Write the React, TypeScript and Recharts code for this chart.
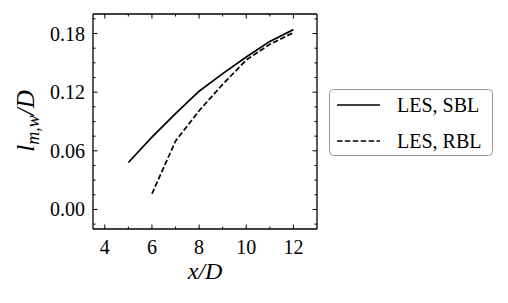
import React from "react";
import { LineChart, Line, XAxis, YAxis, Legend } from "recharts";

const xValues = [5, 6, 7, 8, 9, 10, 11, 12];
const sblValues = [0.048, 0.074, 0.098, 0.121, 0.139, 0.156, 0.172, 0.184];
const rblValues = [null, 0.016, 0.07, 0.101, 0.128, 0.153, 0.169, 0.181];

const xTicks = [4, 5, 6, 7, 8, 9, 10, 11, 12];
const xMajor = [4, 6, 8, 10, 12];
const yTicks = [-0.015, 0, 0.015, 0.03, 0.045, 0.06, 0.075, 0.09, 0.105, 0.12, 0.135, 0.15, 0.165, 0.18, 0.195];
const yMajor = [0, 0.06, 0.12, 0.18];

const seriesNames = ["LES, SBL", "LES, RBL"];

const data = xValues.map((x, i) => ({ x, sbl: sblValues[i], rbl: rblValues[i] }));

const FONT = "'Liberation Serif', 'Times New Roman', serif";
const isMajor = (arr: number[], v: number) => arr.some((m) => Math.abs(m - v) < 1e-9);

const makeTick = (side: "bottom" | "top" | "left" | "right") => (props: any) => {
  const { x, y, payload } = props;
  const v = payload.value;
  const major = side === "bottom" || side === "top" ? isMajor(xMajor, v) : isMajor(yMajor, v);
  const len = major ? 4.5 : 2.5;
  let line;
  if (side === "bottom") line = <line x1={x} x2={x} y1={y} y2={y - len} stroke="#000" strokeWidth={1} />;
  else if (side === "top") line = <line x1={x} x2={x} y1={y} y2={y + len} stroke="#000" strokeWidth={1} />;
  else if (side === "left") line = <line x1={x} x2={x + len} y1={y} y2={y} stroke="#000" strokeWidth={1} />;
  else line = <line x1={x} x2={x - len} y1={y} y2={y} stroke="#000" strokeWidth={1} />;
  let label = null;
  if (major && side === "bottom")
    label = (
      <text x={x} y={y + 25} textAnchor="middle" fontSize={20} fontFamily={FONT} fill="#000">
        {v}
      </text>
    );
  if (major && side === "left")
    label = (
      <text x={x - 8} y={y + 7} textAnchor="end" fontSize={20} fontFamily={FONT} fill="#000">
        {v.toFixed(2)}
      </text>
    );
  return (
    <g>
      {line}
      {label}
    </g>
  );
};

const LegendContent = () => (
  <svg width={164} height={67} style={{ display: "block" }}>
    <rect x={0.5} y={0.5} width={163} height={66} rx={4} ry={4} fill="#fff" stroke="#999" strokeWidth={1} />
    <line x1={8} x2={51} y1={16} y2={16} stroke="#000" strokeWidth={1.7} />
    <text x={68} y={23} fontSize={20} fontFamily={FONT} fill="#000">
      {seriesNames[0]}
    </text>
    <line x1={8} x2={51} y1={52} y2={52} stroke="#000" strokeWidth={1.7} strokeDasharray="5.5 2.4" />
    <text x={68} y={59} fontSize={20} fontFamily={FONT} fill="#000">
      {seriesNames[1]}
    </text>
  </svg>
);

export default function App() {
  return (
    <div style={{ position: "absolute", left: 0, top: 0, width: 508, height: 303, background: "#fff" }}>
      <LineChart
        width={508}
        height={303}
        data={data}
        margin={{ top: 13, left: 92, right: 190, bottom: 73 }}
        style={{ fontFamily: FONT }}
      >
        <XAxis
          dataKey="x"
          type="number"
          domain={[3.5, 13]}
          ticks={xTicks}
          interval={0}
          height={1}
          tickSize={0}
          tickMargin={0}
          tickLine={false}
          axisLine={{ stroke: "#000", strokeWidth: 1.3 }}
          tick={makeTick("bottom")}
          allowDataOverflow
          label={{
            content: () => (
              <text x={205} y={279} textAnchor="middle" fontSize={24} fontFamily={FONT} fontStyle="italic" fill="#000">
                x/D
              </text>
            ),
          }}
        />
        <XAxis
          xAxisId="top"
          orientation="top"
          dataKey="x"
          type="number"
          domain={[3.5, 13]}
          ticks={xTicks}
          interval={0}
          height={1}
          tickSize={0}
          tickMargin={0}
          tickLine={false}
          axisLine={{ stroke: "#000", strokeWidth: 1.3 }}
          tick={makeTick("top")}
          allowDataOverflow
        />
        <YAxis
          type="number"
          domain={[-0.02, 0.2]}
          ticks={yTicks}
          interval={0}
          width={1}
          tickSize={0}
          tickMargin={0}
          tickLine={false}
          axisLine={{ stroke: "#000", strokeWidth: 1.3 }}
          tick={makeTick("left")}
          allowDataOverflow
          label={{
            content: () => (
              <text
                x={0}
                y={0}
                transform="translate(34,121) rotate(-90)"
                textAnchor="middle"
                fontSize={25}
                fontFamily={FONT}
                fontStyle="italic"
                fill="#000"
              >
                l
                <tspan fontSize={18} dy={5}>
                  m,w
                </tspan>
                <tspan dy={-5}>/D</tspan>
              </text>
            ),
          }}
        />
        <YAxis
          yAxisId="right"
          orientation="right"
          type="number"
          domain={[-0.02, 0.2]}
          ticks={yTicks}
          interval={0}
          width={1}
          tickSize={0}
          tickMargin={0}
          tickLine={false}
          axisLine={{ stroke: "#000", strokeWidth: 1.3 }}
          tick={makeTick("right")}
          allowDataOverflow
        />
        <Line
          dataKey="sbl"
          name={seriesNames[0]}
          stroke="#000"
          strokeWidth={1.7}
          dot={false}
          type="linear"
          isAnimationActive={false}
        />
        <Line
          dataKey="rbl"
          name={seriesNames[1]}
          stroke="#000"
          strokeWidth={1.7}
          strokeDasharray="5.5 2.4"
          dot={false}
          type="linear"
          isAnimationActive={false}
        />
        <Legend
          layout="horizontal"
          verticalAlign="middle"
          align="center"
          content={<LegendContent />}
          wrapperStyle={{ position: "absolute", left: 329, top: 89, width: 164, height: 67 }}
        />
      </LineChart>
    </div>
  );
}
